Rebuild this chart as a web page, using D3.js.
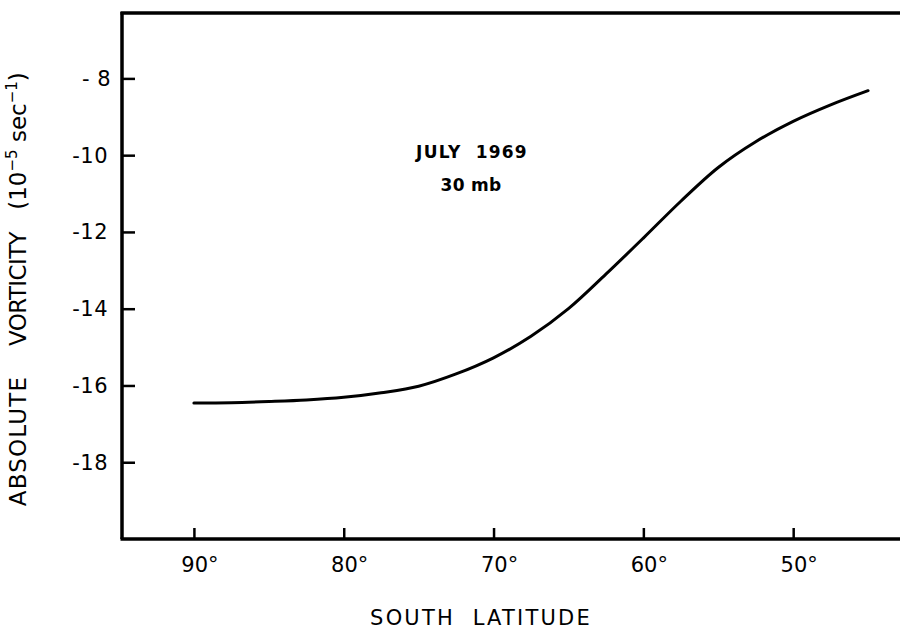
<!DOCTYPE html>
<html>
<head>
<meta charset="utf-8">
<script src="https://cdn.jsdelivr.net/npm/d3@7"></script>
<style>
  html, body { margin: 0; padding: 0; background: #fff; }
  svg text { font-family: "DejaVu Sans", "Liberation Sans", sans-serif; fill: #000; }
</style>
</head>
<body>
<svg id="chart" width="900" height="631"></svg>
<script>
// Data
const latitudes = [90, 87.5, 85, 82.5, 80, 77.5, 75, 72.5, 70, 67.5, 65, 62.5, 60, 57.5, 55, 52.5, 50, 47.5, 45];
const vorticity = [-16.46, -16.45, -16.42, -16.38, -16.31, -16.19, -16.02, -15.70, -15.28, -14.72, -14.0, -13.1, -12.16, -11.2, -10.32, -9.65, -9.12, -8.69, -8.32];
const xTicks = [90, 80, 70, 60, 50];
const xTickLabels = ["90°", "80°", "70°", "60°", "50°"];
const yTicks = [-8, -10, -12, -14, -16, -18];
const yTickLabels = ["- 8", "-10", "-12", "-14", "-16", "-18"];
const annotation = ["JULY  1969", "30 mb"];

const svg = d3.select("#chart");
const x = d3.scaleLinear().domain([94.8, 42.87]).range([122, 900]);
const y = d3.scaleLinear().domain([-20, -6.27]).range([539, 12]);

// Axes (ticks inward)
const yAxis = d3.axisRight(y).tickValues(yTicks).tickSize(13).tickFormat("");
const gy = svg.append("g").attr("transform", `translate(${x(94.8)},0)`).call(yAxis);
gy.select(".domain").remove();
gy.selectAll(".tick line").attr("stroke", "#000").attr("stroke-width", 2.5);

const xAxis = d3.axisTop(x).tickValues(xTicks).tickSize(11).tickFormat("");
const gx = svg.append("g").attr("transform", `translate(0,${y(-20)})`).call(xAxis);
gx.select(".domain").remove();
gx.selectAll(".tick line").attr("stroke", "#000").attr("stroke-width", 2.5);

// Frame lines: left, bottom, top
svg.append("line").attr("x1", x(94.8)).attr("x2", x(94.8)).attr("y1", y(-6.27)).attr("y2", y(-20))
  .attr("stroke", "#000").attr("stroke-width", 3.5);
svg.append("line").attr("x1", x(94.8) - 1.5).attr("x2", x(42.87)).attr("y1", y(-20)).attr("y2", y(-20))
  .attr("stroke", "#000").attr("stroke-width", 3.5);
svg.append("line").attr("x1", x(94.8) - 1.5).attr("x2", x(42.87)).attr("y1", y(-6.27) + 1).attr("y2", y(-6.27) + 1)
  .attr("stroke", "#000").attr("stroke-width", 3.5);

// Tick labels
svg.append("g").selectAll("text").data(yTicks).join("text")
  .attr("x", (d, i) => i === 0 ? 111 : 108).attr("y", d => y(d)).attr("dy", "0.36em")
  .attr("text-anchor", "end").attr("font-size", 21).attr("letter-spacing", 0.5)
  .attr("xml:space", "preserve")
  .text((d, i) => yTickLabels[i]);

svg.append("g").selectAll("text").data(xTicks).join("text")
  .attr("x", d => x(d) + 6).attr("y", 572)
  .attr("text-anchor", "middle").attr("font-size", 21)
  .text((d, i) => xTickLabels[i]);

// Axis titles
svg.append("text").attr("x", 481).attr("y", 625).attr("text-anchor", "middle")
  .attr("font-size", 21).attr("letter-spacing", 2.2).attr("xml:space", "preserve").text("SOUTH  LATITUDE");

const yTitle = svg.append("g").attr("font-size", 23);
yTitle.append("text").attr("transform", "translate(26,441) rotate(-90)")
  .attr("text-anchor", "middle").attr("letter-spacing", 1.2).text("ABSOLUTE");
yTitle.append("text").attr("transform", "translate(26,289) rotate(-90)")
  .attr("text-anchor", "middle").attr("letter-spacing", -0.6).text("VORTICITY");
const yt = yTitle.append("text").attr("transform", "translate(26,141) rotate(-90)")
  .attr("text-anchor", "middle").attr("xml:space", "preserve");
yt.append("tspan").text("(10");
yt.append("tspan").attr("dy", -9).attr("font-size", 15).text("−5");
yt.append("tspan").attr("dy", 9).text(" sec");
yt.append("tspan").attr("dy", -9).attr("font-size", 15).text("−1");
yt.append("tspan").attr("dy", 9).text(")");

// Annotation
svg.append("text").attr("x", 472).attr("y", 158).attr("text-anchor", "middle")
  .attr("font-size", 17).attr("font-weight", "bold").attr("letter-spacing", 1.2)
  .attr("xml:space", "preserve").text(annotation[0]);
svg.append("text").attr("x", 471).attr("y", 191).attr("text-anchor", "middle")
  .attr("font-size", 17).attr("font-weight", "bold").attr("letter-spacing", 0.3)
  .text(annotation[1]);

// Curve
const line = d3.line().x((d, i) => x(latitudes[i])).y(d => y(d)).curve(d3.curveCatmullRom.alpha(0.5));
svg.append("path").datum(vorticity).attr("d", line)
  .attr("fill", "none").attr("stroke", "#000").attr("stroke-width", 3).attr("stroke-linecap", "round");
</script>
</body>
</html>
